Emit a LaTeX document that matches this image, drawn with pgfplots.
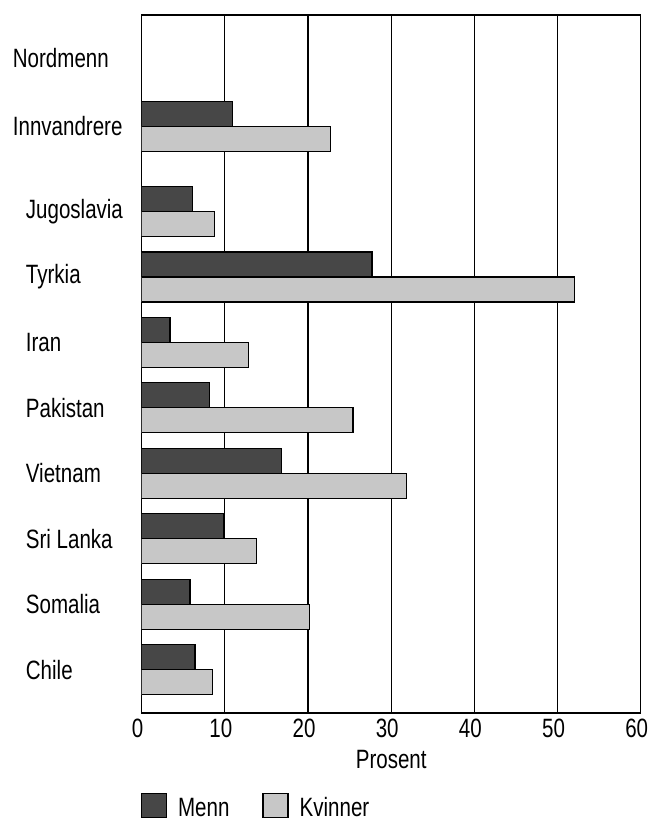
\documentclass[border=0pt]{standalone}
\usepackage{pgfplots}
\pgfplotsset{compat=1.18}
\usepackage{fontspec}
\setmainfont[FakeStretch=0.775]{Liberation Sans}

\definecolor{menn}{gray}{0.28}
\definecolor{kvinner}{gray}{0.78}

\pgfplotsset{boxlegend/.style={legend image code/.code={\draw[##1] (0pt,-7.9pt) rectangle (25pt,16.1pt);}}}

\begin{document}
\fontsize{26.5}{30}\selectfont
\begin{tikzpicture}[x=1pt,y=1pt]
\path[use as bounding box] (0,0) rectangle (649,822);
\begin{axis}[
  at={(141.7pt,109pt)}, anchor=south west,
  scale only axis, width=499pt, height=698pt,
  xbar, bar width=25pt,
  xmin=0, xmax=60, ymin=-0.66, ymax=10.0,
  xtick={0,10,...,60},
  /pgf/number format/assume math mode=true,
  xmajorgrids, grid style={black, line width=1.1pt},
  axis line style={line width=1.2pt},
  major tick length=0pt,
  ytick={0,1,2,3,4,5,6,7,8.3,9.35},
  yticklabels={\hspace{13pt}Chile,\hspace{13pt}Somalia,\hspace{13pt}Sri Lanka,\hspace{13pt}Vietnam,\hspace{13pt}Pakistan,\hspace{13pt}Iran,\hspace{13pt}Tyrkia,\hspace{13pt}Jugoslavia,Innvandrere,Nordmenn},
  yticklabel style={anchor=west, inner sep=0pt, xshift=-129pt},
  xticklabel style={inner sep=0pt, anchor=north, yshift=-5.5pt, xshift=-4pt},
  xlabel={Prosent},
  xlabel style={at={(0.5,0)}, anchor=north, inner sep=0pt, yshift=-37pt},
  legend columns=2,
  legend style={at={(0,0)}, anchor=south west, xshift=-1pt, yshift=-110pt,
    draw=none, fill=none, inner sep=0pt,
    /tikz/every odd column/.append style={column sep=9pt},
    /tikz/every even column/.append style={column sep=31pt}},
]
\addplot[draw=black, line width=1.2pt, fill=menn, bar shift=12.5pt, boxlegend]
  coordinates {(6.4,0) (5.8,1) (9.9,2) (16.8,3) (8.2,4) (3.4,5) (27.7,6) (6.1,7) (10.9,8.3)};
\addplot[draw=black, line width=1.2pt, fill=kvinner, bar shift=-12.5pt, boxlegend]
  coordinates {(8.5,0) (20.2,1) (13.8,2) (31.8,3) (25.4,4) (12.8,5) (52.0,6) (8.8,7) (22.7,8.3)};
\legend{Menn,Kvinner}
\end{axis}
\end{tikzpicture}
\end{document}
